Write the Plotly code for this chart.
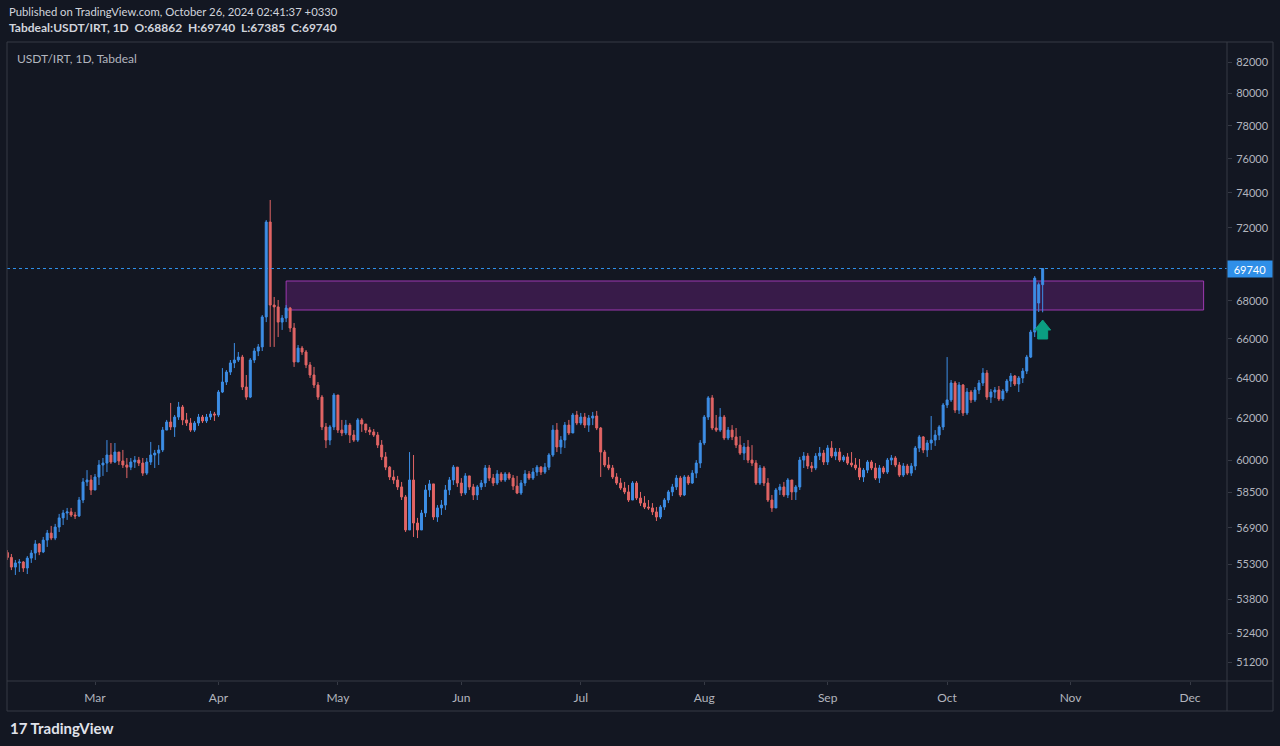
import math
import pandas as pd
import plotly.graph_objects as go

# ---------------- data (USDT/IRT daily, Tabdeal) ----------------
dates = pd.date_range("2024-02-08", "2024-10-25", freq="D")

closes = [
    # Feb 8-29
    55600, 55180, 55360, 55400, 55140, 55570, 55790, 56190, 55840, 56360, 56670, 56450, 56940, 57350, 57570, 57620, 57480, 57440, 58160, 58990, 59080, 58620,
    # Mar
    59220, 59780, 59870, 60250, 59920, 60390, 59970, 59780, 59680, 59920, 60010, 59870, 59400, 59920, 60250, 60340, 60490, 61440, 61830, 61590, 62070, 62560, 61930, 61780, 61440, 61780, 62070, 61880, 62070, 62220, 62170,
    # Apr
    63300, 63800, 64300, 64760, 64910, 65060, 63550, 63050, 64910, 65370, 65580, 67140, 72330, 67770, 67670, 66870, 67080, 67610, 66560, 64810, 65520, 65320, 64660, 64150, 63650, 63050, 61590, 60960, 61590, 63150,
    # May
    61440, 61300, 61680, 61200, 60960, 61930, 61730, 61440, 61350, 61200, 60720, 60160, 59680, 59220, 59080, 58760, 58300, 56810, 59080, 57120, 56810, 57570, 58620, 58900, 57390, 57800, 57930, 58620, 59080, 59680, 58940,
    # Jun
    58480, 59270, 58760, 58390, 58760, 58940, 59640, 59170, 58940, 59360, 59080, 59360, 59170, 58800, 58480, 58940, 59360, 59170, 59450, 59680, 59450, 59680, 60250, 61440, 60630, 60960, 61680, 61300, 62170, 61780,
    # Jul
    62070, 61680, 62020, 62120, 61540, 60390, 59780, 59640, 59220, 58940, 58710, 58530, 58160, 58940, 58250, 58020, 57840, 57800, 57620, 57390, 57840, 58160, 58530, 58760, 59170, 58390, 59220, 58940, 59400, 59870, 60820,
    # Aug
    62070, 63010, 61540, 61440, 62070, 61060, 61440, 61110, 60720, 60340, 60630, 60010, 59870, 58940, 59640, 58940, 58160, 57800, 58620, 58760, 58390, 59080, 58530, 58760, 60010, 60200, 59730, 59640, 60200, 60340, 59920,
    # Sep
    60580, 60200, 60390, 60010, 60160, 59870, 59780, 59640, 59220, 59540, 59920, 59640, 59170, 59640, 59450, 60010, 60110, 59780, 59310, 59730, 59400, 59730, 60580, 61110, 60490, 60820, 60960, 61200, 61590, 62660,
    # Oct 1-25
    62910, 63750, 62410, 63650, 62270, 63300, 62910, 63400, 63750, 64250, 63050, 63300, 63400, 62960, 63350, 63850, 64100, 63700, 64000, 64350, 65060, 66350, 69220, 68862, 69740,
]

highs = [
    55920, 55750, 55490, 55530, 55440, 55660, 55920, 56360, 56230, 56500, 56810, 56990, 57080, 57530, 57710, 57800, 57800, 57620, 58300, 59170, 59540, 59310,
    59360, 60010, 60110, 60960, 60820, 60820, 60390, 60490, 60110, 60110, 60200, 60160, 60110, 60110, 60870, 60490, 60720, 61590, 61930, 62760, 62170, 62810, 62660, 62270, 62020, 61880, 62220, 62170, 62220, 62370, 62320,
    63400, 64500, 64400, 64910, 65780, 65320, 65170, 64150, 65010, 65520, 65730, 67240, 72440, 73590, 68200, 68040, 67240, 67770, 67670, 66820, 65680, 65630, 65420, 64810, 64560, 63800, 63150, 61780, 61680, 63250,
    63150, 61930, 61930, 61780, 61440, 62020, 62020, 61730, 61590, 61490, 61350, 60960, 60390, 59730, 59540, 59270, 58990, 58390, 60390, 60250, 57350, 57710, 58850, 59080, 58850, 57930, 58160, 58850, 59220, 59780, 59640,
    59170, 59400, 59170, 58900, 58850, 59080, 59780, 59780, 59360, 59540, 59450, 59450, 59450, 59310, 59270, 59080, 59540, 59500, 59640, 59780, 59730, 59870, 60340, 61680, 61780, 61150, 61830, 61930, 62270, 62370,
    62270, 62270, 62170, 62320, 62370, 61590, 60490, 60160, 59780, 59400, 59170, 58990, 58850, 59030, 59030, 58530, 58340, 58160, 58020, 57840, 57930, 58250, 58620, 58900, 59310, 59270, 59310, 59310, 59540, 60010, 60960,
    62170, 63100, 63150, 62170, 62510, 62170, 61590, 61680, 61540, 61150, 60820, 60960, 60720, 60010, 59780, 59730, 59170, 58390, 58710, 58900, 58990, 59170, 59080, 58850, 60160, 60390, 60340, 59920, 60340, 60630, 60490,
    60720, 60910, 60580, 60580, 60250, 60340, 60390, 60110, 60060, 59640, 60010, 60010, 59870, 59780, 59730, 60110, 60250, 60200, 59920, 59870, 59830, 59870, 60680, 61200, 61150, 60960, 62120, 61440, 61680, 62760,
    65060, 63900, 63850, 63800, 63700, 63500, 63400, 63550, 63900, 64500, 64400, 63450, 63550, 63600, 63450, 63950, 64250, 64150, 64100, 64500, 65170, 66460, 69330, 68980, 69740,
]

lows = [
    55490, 55050, 54840, 54970, 54970, 54880, 55360, 55490, 55700, 55790, 56060, 56360, 56360, 56720, 57030, 57260, 57390, 57300, 57390, 58020, 58800, 58390,
    58620, 58850, 59270, 59450, 59830, 59870, 59780, 59640, 59170, 59540, 59640, 59730, 59270, 59310, 59780, 59640, 59780, 60390, 61440, 61440, 61110, 61930, 61680, 61640, 61350, 61350, 61640, 61780, 61780, 61930, 61880,
    62070, 63250, 63650, 64150, 64500, 64810, 63400, 62910, 63000, 64760, 65110, 65370, 66870, 65580, 65580, 66090, 66460, 66870, 66350, 64560, 64810, 65170, 64500, 64000, 63500, 62910, 61440, 60580, 60720, 61440,
    61300, 61150, 61200, 60820, 60870, 60870, 61350, 61300, 61200, 61110, 60580, 60010, 59540, 59080, 58900, 58620, 58160, 56720, 56810, 56500, 56450, 56810, 57390, 58300, 57260, 57170, 57480, 57710, 58390, 58850, 58760,
    58340, 58390, 58620, 58160, 58160, 58620, 58760, 59030, 58800, 58850, 58990, 58990, 59080, 58620, 58430, 58390, 58800, 59080, 59080, 59270, 59310, 59360, 59540, 60160, 60390, 60300, 60580, 61200, 61300, 61680,
    61680, 61540, 61350, 61680, 61440, 59220, 59680, 59540, 59130, 58850, 58620, 58430, 58070, 58160, 58160, 57890, 57750, 57710, 57480, 57210, 57300, 57710, 58020, 58340, 58620, 58300, 58340, 58850, 58900, 59170, 59640,
    60720, 61930, 61440, 61350, 61350, 60960, 60960, 60960, 60580, 60250, 60010, 59870, 59730, 58850, 58850, 58800, 58070, 57620, 57890, 58390, 58300, 58250, 58160, 58160, 58620, 59640, 59590, 59450, 59540, 60010, 59780,
    59780, 60110, 60010, 59920, 59920, 59780, 59680, 59540, 59080, 58990, 59400, 59540, 59080, 58940, 59360, 59360, 59780, 59680, 59220, 59220, 59310, 59270, 59540, 60390, 60340, 60160, 60490, 60680, 60960, 61440,
    62510, 62810, 62270, 62220, 62120, 62170, 62760, 62810, 63200, 63600, 62910, 62760, 63000, 62860, 62860, 63250, 63550, 63600, 63300, 63750, 64200, 65010, 66090, 67400, 67385,
]

first_open = 55810
gap_opens = {"2024-10-24": 67877, "2024-10-25": 68862}

y_tick_vals = [51200, 52400, 53800, 55300, 56900, 58500, 60000, 62000, 64000, 66000, 68000,
               72000, 74000, 76000, 78000, 80000, 82000]
month_ticks = ["2024-03-01", "2024-04-01", "2024-05-01", "2024-06-01", "2024-07-01", "2024-08-01",
               "2024-09-01", "2024-10-01", "2024-11-01", "2024-12-01"]
month_labels = ["Mar", "Apr", "May", "Jun", "Jul", "Aug", "Sep", "Oct", "Nov", "Dec"]

last_price = 69740
zone_low, zone_high = 67506, 69060
zone_start, zone_end = "2024-04-18", "2024-12-04 10:00"
arrow_date, arrow_tip_price = "2024-10-25", 66979

# ---------------- build OHLC table ----------------
opens = []
for i, d in enumerate(dates):
    key = d.strftime("%Y-%m-%d")
    if i == 0:
        opens.append(first_open)
    elif key in gap_opens:
        opens.append(gap_opens[key])
    else:
        opens.append(closes[i - 1])
highs = [max(h, o, c) for h, o, c in zip(highs, opens, closes)]
lows = [min(l, o, c) for l, o, c in zip(lows, opens, closes)]

BG = "#131722"
UP = "#3d8ee6"
DN = "#e26565"
FRAME = "#363a45"
TXT = "#b2b5be"
FONT = "Lato, 'Open Sans', sans-serif"

fig = go.Figure()
fig.add_trace(go.Candlestick(
    x=dates, open=opens, high=highs, low=lows, close=closes,
    increasing=dict(line=dict(color=UP, width=1), fillcolor=UP),
    decreasing=dict(line=dict(color=DN, width=1), fillcolor=DN),
    whiskerwidth=0, showlegend=False,
))

# zone rectangle
fig.add_shape(type="rect", xref="x", yref="y", x0=zone_start, x1=zone_end,
              y0=zone_low, y1=zone_high, fillcolor="rgba(156,39,176,0.28)",
              line=dict(color="rgba(170,60,190,0.9)", width=1), layer="below")
# last price dotted line
fig.add_shape(type="line", xref="paper", yref="y", x0=0, x1=1, y0=last_price, y1=last_price,
              line=dict(color="#2f8fe8", width=1, dash="dot"))
# green block arrow (pixel-sized path anchored at date/price)
fig.add_shape(type="path", xref="x", yref="y", xsizemode="pixel", ysizemode="pixel",
              xanchor=arrow_date, yanchor=arrow_tip_price,
              path="M 0 0 L 8 -10 L 5 -10 L 5 -19 L -5 -19 L -5 -10 L -8 -10 Z",
              fillcolor="#0b9e82", line=dict(color="#0b9e82", width=1))

# frame lines (price axis / time axis panels)
R = (1273 - 7) / 1220
B = (681 - 711) / 639
fig.add_shape(type="rect", xref="paper", yref="paper", x0=0, x1=R, y0=B, y1=1,
              line=dict(color=FRAME, width=1))
fig.add_shape(type="line", xref="paper", yref="paper", x0=1, x1=1, y0=B, y1=1,
              line=dict(color=FRAME, width=1))
fig.add_shape(type="line", xref="paper", yref="paper", x0=0, x1=R, y0=0, y1=0,
              line=dict(color=FRAME, width=1))

ann = []
ann.append(dict(text="Published on TradingView.com, October 26, 2024 02:41:37 +0330",
                xref="paper", yref="paper", x=0, y=(681 - 12) / 639, xanchor="left", yanchor="middle",
                showarrow=False, font=dict(family=FONT, size=11.3, color="#d1d4dc")))
ann.append(dict(text="<b>Tabdeal:USDT/IRT, 1D  O:68862  H:69740  L:67385  C:69740</b>",
                xref="paper", yref="paper", x=0, y=(681 - 28) / 639, xanchor="left", yanchor="middle",
                showarrow=False, font=dict(family=FONT, size=12, color="#d1d4dc")))
ann.append(dict(text="USDT/IRT, 1D, Tabdeal",
                xref="paper", yref="paper", x=(15 - 7) / 1220, y=(681 - 58) / 639, xanchor="left",
                yanchor="middle", showarrow=False, font=dict(family=FONT, size=12, color=TXT)))
ann.append(dict(text="<b>17 TradingView</b>",
                xref="paper", yref="paper", x=(8 - 7) / 1220, y=(681 - 728) / 639, xanchor="left",
                yanchor="middle", showarrow=False, font=dict(family=FONT, size=15, color="#e0e3eb")))
ann.append(dict(text=f"{last_price}", xref="paper", yref="y", x=1.0, y=math.log10(last_price),
                xanchor="left", yanchor="middle", showarrow=False, width=42, height=14,
                bgcolor="#2f8fe8", borderpad=1, font=dict(family=FONT, size=11, color="#ffffff")))

fig.update_layout(
    width=1280, height=746,
    margin=dict(l=7, r=53, t=42, b=65),
    paper_bgcolor=BG, plot_bgcolor=BG,
    font=dict(family=FONT, color=TXT),
    annotations=ann,
    hovermode=False,
    xaxis=dict(range=["2024-02-07 21:36", "2024-12-10 07:00"], rangeslider=dict(visible=False),
               tickvals=month_ticks, ticktext=month_labels, showgrid=False, zeroline=False,
               ticks="outside", ticklen=3, tickcolor=FRAME, tickfont=dict(size=12, color=TXT),
               ticklabelstandoff=3, showline=False, fixedrange=True),
    yaxis=dict(type="log", side="right", range=[math.log10(50464), math.log10(83297)],
               tickvals=y_tick_vals, ticktext=[str(v) for v in y_tick_vals],
               showgrid=False, zeroline=False, ticks="outside", ticklen=4, tickcolor=FRAME,
               tickfont=dict(size=11, color=TXT), ticklabelstandoff=2,
               showline=False, fixedrange=True),
)

fig.write_html("out.html", config={"displayModeBar": False},
               post_script="document.body.style.margin='0';document.body.style.background='#131722';")
